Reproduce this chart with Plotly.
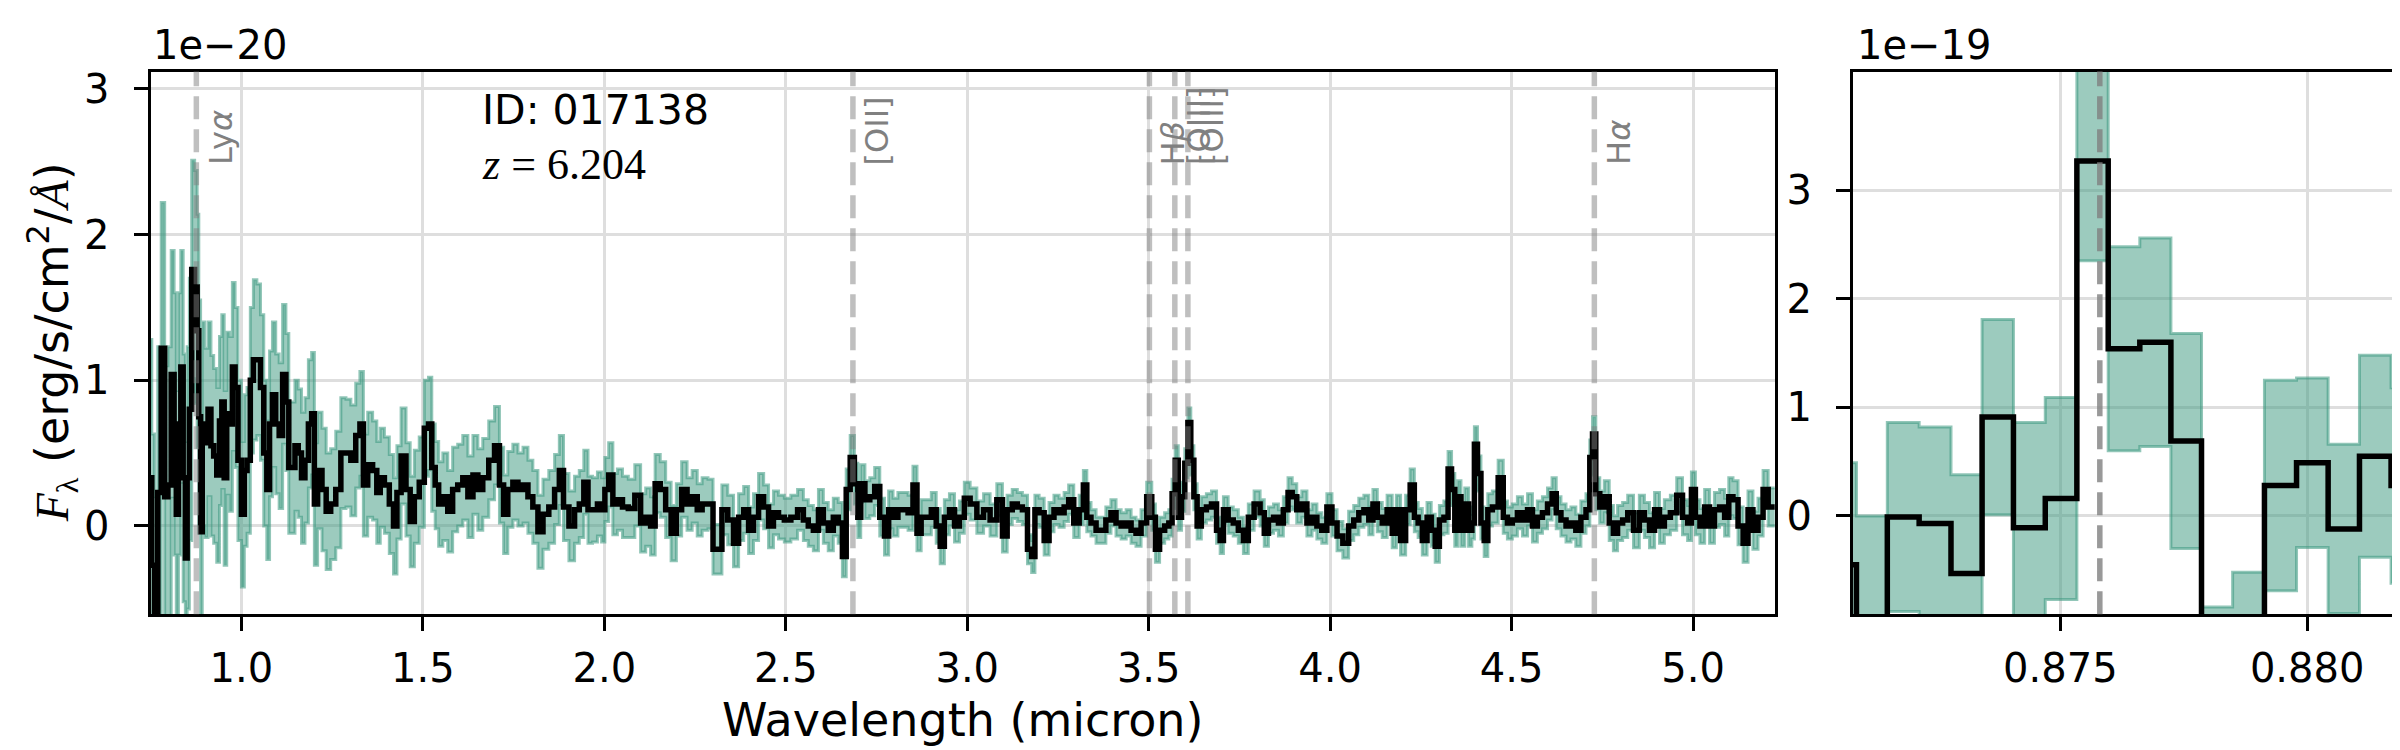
import plotly.graph_objects as go

# full spectrum, wavelength in micron, flux and error in units of 1e-20 erg/s/cm2/A
wave = [
    0.750, 0.756, 0.765, 0.774, 0.784, 0.793, 0.802, 0.811, 0.818, 0.823,
    0.830, 0.836, 0.843, 0.848, 0.853, 0.860, 0.866, 0.876, 0.880, 0.885,
    0.890, 0.894, 0.903, 0.913, 0.919, 0.928, 0.936, 0.943, 0.949, 0.956,
    0.963, 0.971, 0.979, 0.986, 0.995, 1.005, 1.011, 1.020, 1.029, 1.037,
    1.048, 1.057, 1.066, 1.074, 1.081, 1.090, 1.099, 1.109, 1.118, 1.127,
    1.134, 1.143, 1.152, 1.161, 1.170, 1.180, 1.189, 1.198, 1.204, 1.216,
    1.228, 1.239, 1.253, 1.267, 1.281, 1.295, 1.308, 1.322, 1.331, 1.341,
    1.355, 1.368, 1.378, 1.387, 1.401, 1.414, 1.424, 1.433, 1.447, 1.460,
    1.470, 1.483, 1.497, 1.511, 1.520, 1.529, 1.539, 1.548, 1.562, 1.575,
    1.589, 1.603, 1.617, 1.631, 1.645, 1.658, 1.672, 1.691, 1.704, 1.718,
    1.727, 1.741, 1.755, 1.769, 1.783, 1.796, 1.810, 1.824, 1.838, 1.856,
    1.870, 1.882, 1.893, 1.912, 1.924, 1.938, 1.949, 1.961, 1.974, 1.988,
    1.997, 2.006, 2.018, 2.029, 2.043, 2.057, 2.075, 2.093, 2.107, 2.121,
    2.134, 2.146, 2.162, 2.176, 2.192, 2.205, 2.221, 2.235, 2.249, 2.263,
    2.276, 2.295, 2.304, 2.317, 2.331, 2.349, 2.363, 2.377, 2.391, 2.404,
    2.418, 2.432, 2.446, 2.459, 2.473, 2.487, 2.505, 2.523, 2.542, 2.555,
    2.569, 2.583, 2.597, 2.610, 2.624, 2.638, 2.651, 2.661, 2.672, 2.683,
    2.695, 2.702, 2.711, 2.725, 2.738, 2.752, 2.766, 2.778, 2.789, 2.802,
    2.816, 2.830, 2.844, 2.857, 2.866, 2.880, 2.894, 2.908, 2.921, 2.930,
    2.944, 2.958, 2.972, 2.985, 2.999, 3.017, 3.036, 3.054, 3.072, 3.091,
    3.103, 3.117, 3.131, 3.145, 3.159, 3.173, 3.182, 3.191, 3.205, 3.219,
    3.232, 3.246, 3.260, 3.274, 3.285, 3.302, 3.315, 3.325, 3.334, 3.348,
    3.362, 3.375, 3.389, 3.403, 3.417, 3.431, 3.445, 3.458, 3.472, 3.486,
    3.503, 3.514, 3.523, 3.537, 3.551, 3.560, 3.569, 3.577, 3.586, 3.595,
    3.604, 3.612, 3.620, 3.629, 3.638, 3.652, 3.666, 3.680, 3.694, 3.700,
    3.712, 3.726, 3.740, 3.754, 3.768, 3.781, 3.800, 3.814, 3.823, 3.837,
    3.851, 3.864, 3.878, 3.890, 3.901, 3.915, 3.929, 3.943, 3.957, 3.970,
    3.984, 3.998, 4.012, 4.026, 4.044, 4.058, 4.072, 4.086, 4.100, 4.113,
    4.123, 4.137, 4.150, 4.164, 4.178, 4.187, 4.201, 4.215, 4.226, 4.238,
    4.247, 4.261, 4.273, 4.284, 4.295, 4.307, 4.320, 4.330, 4.339, 4.348,
    4.355, 4.366, 4.376, 4.387, 4.394, 4.401, 4.411, 4.420, 4.429, 4.440,
    4.454, 4.472, 4.482, 4.495, 4.509, 4.523, 4.537, 4.551, 4.564, 4.578,
    4.592, 4.606, 4.617, 4.629, 4.643, 4.657, 4.670, 4.684, 4.698, 4.712,
    4.719, 4.727, 4.737, 4.749, 4.762, 4.776, 4.785, 4.799, 4.813, 4.827,
    4.845, 4.859, 4.873, 4.887, 4.901, 4.914, 4.928, 4.947, 4.963, 4.979,
    4.991, 5.000, 5.013, 5.025, 5.039, 5.052, 5.066, 5.080, 5.094, 5.103,
    5.117, 5.131, 5.145, 5.158, 5.172, 5.186, 5.200, 5.214, 5.230,
]
flux = [
    0.33, -0.27, -0.75, 0.23, 1.22, 0.20, 0.28, 1.04, 0.70, 0.08,
    0.70, 1.09, 0.33, -0.22, 0.33, 0.80, 1.76, 1.64, 1.34, 0.75,
    -0.04, 0.70, 0.57, 0.80, 0.55, 0.48, 0.35, 0.72, 0.85, 0.33,
    0.77, 0.70, 1.09, 0.95, 0.45, 0.08, 0.38, 0.45, 1.00, 1.14,
    1.14, 0.95, 0.50, 0.25, 0.70, 0.90, 0.70, 0.62, 1.04, 0.85,
    0.40, 0.40, 0.55, 0.50, 0.33, 0.45, 0.70, 0.77, 0.15, 0.38,
    0.25, 0.10, 0.15, 0.25, 0.50, 0.50, 0.45, 0.62, 0.70, 0.28,
    0.42, 0.38, 0.23, 0.33, 0.28, 0.15, 0.00, 0.23, 0.48, 0.25,
    0.03, 0.20, 0.30, 0.67, 0.70, 0.40, 0.28, 0.15, 0.20, 0.10,
    0.25, 0.28, 0.33, 0.20, 0.35, 0.25, 0.33, 0.45, 0.55, 0.28,
    0.08, 0.25, 0.30, 0.25, 0.28, 0.20, 0.13, -0.04, 0.08, 0.13,
    0.25, 0.38, 0.13, 0.00, 0.11, 0.15, 0.30, 0.11, 0.11, 0.15,
    0.11, 0.25, 0.35, 0.15, 0.18, 0.13, 0.12, 0.21, 0.02, 0.06,
    0.00, 0.29, 0.25, 0.11, -0.05, 0.11, 0.25, 0.15, 0.20, 0.11,
    0.15, 0.15, -0.16, -0.16, 0.11, 0.04, -0.12, 0.06, 0.11, -0.03,
    0.06, 0.20, 0.13, 0.00, 0.09, 0.06, 0.04, 0.06, 0.11, 0.04,
    0.00, -0.03, 0.11, 0.02, -0.03, 0.06, 0.02, -0.21, 0.25, 0.47,
    0.29, 0.06, 0.29, 0.18, 0.20, 0.27, 0.06, -0.07, 0.11, 0.06,
    0.11, 0.11, 0.09, 0.28, -0.05, 0.06, 0.06, 0.11, 0.00, -0.14,
    0.06, 0.11, 0.00, 0.06, 0.19, 0.15, 0.06, 0.11, 0.04, 0.18,
    -0.07, 0.11, 0.15, 0.13, 0.11, -0.16, -0.21, 0.11, 0.09, -0.10,
    0.06, 0.11, 0.09, 0.13, 0.18, 0.02, 0.11, 0.28, 0.06, 0.02,
    -0.03, -0.03, 0.04, 0.09, 0.02, 0.00, 0.02, -0.03, -0.05, 0.02,
    0.20, 0.06, -0.16, -0.03, 0.00, 0.02, 0.22, 0.45, 0.06, 0.20,
    0.43, 0.71, 0.45, 0.20, 0.00, 0.11, 0.13, 0.15, -0.03, -0.10,
    0.11, 0.04, 0.02, -0.03, -0.10, 0.06, 0.15, 0.09, -0.05, 0.04,
    0.06, 0.02, 0.11, 0.23, 0.20, 0.11, 0.15, 0.02, 0.06, 0.00,
    -0.03, 0.13, 0.02, -0.07, -0.12, 0.00, 0.04, 0.09, 0.11, 0.04,
    0.15, 0.06, 0.02, 0.11, -0.05, 0.11, -0.10, 0.11, 0.28, 0.06,
    0.02, -0.10, 0.06, -0.03, -0.14, 0.04, 0.06, 0.39, 0.25, -0.03,
    0.20, -0.03, 0.15, -0.03, 0.02, 0.56, 0.36, 0.02, -0.10, 0.11,
    0.13, 0.33, 0.06, 0.02, 0.04, 0.09, 0.04, 0.11, 0.00, 0.06,
    0.09, 0.15, 0.22, 0.09, 0.04, 0.00, 0.02, -0.03, 0.06, 0.11,
    0.47, 0.63, 0.22, 0.13, 0.20, 0.02, -0.05, 0.02, 0.04, 0.09,
    -0.03, 0.09, 0.04, -0.03, 0.11, 0.00, 0.06, 0.09, 0.21, 0.06,
    0.02, 0.25, 0.06, 0.00, 0.13, 0.00, 0.11, 0.13, 0.06, 0.20,
    0.18, 0.00, -0.12, 0.11, -0.03, 0.06, 0.25, 0.13, 0.13,
]
err = [
    0.95, 0.90, 0.95, 1.00, 1.00, 0.90, 0.95, 0.85, 0.90, 0.85,
    0.90, 0.80, 0.85, 0.80, 0.90, 0.90, 0.75, 0.80, 0.80, 0.80,
    0.75, 0.70, 0.65, 0.60, 0.62, 0.60, 0.60, 0.58, 0.60, 0.60,
    0.56, 0.60, 0.58, 0.55, 0.55, 0.50, 0.52, 0.50, 0.50, 0.55,
    0.52, 0.50, 0.50, 0.48, 0.50, 0.50, 0.48, 0.50, 0.48, 0.47,
    0.45, 0.45, 0.45, 0.44, 0.45, 0.43, 0.44, 0.42, 0.42, 0.40,
    0.42, 0.40, 0.38, 0.40, 0.38, 0.37, 0.38, 0.36, 0.36, 0.35,
    0.36, 0.34, 0.35, 0.34, 0.33, 0.34, 0.33, 0.32, 0.33, 0.32,
    0.31, 0.32, 0.31, 0.33, 0.32, 0.30, 0.30, 0.29, 0.30, 0.28,
    0.29, 0.28, 0.29, 0.28, 0.27, 0.28, 0.27, 0.27, 0.27, 0.26,
    0.27, 0.26, 0.26, 0.25, 0.26, 0.25, 0.25, 0.25, 0.24, 0.25,
    0.24, 0.24, 0.23, 0.24, 0.23, 0.23, 0.22, 0.23, 0.22, 0.22,
    0.22, 0.22, 0.22, 0.21, 0.21, 0.21, 0.20, 0.21, 0.20, 0.20,
    0.20, 0.20, 0.19, 0.19, 0.19, 0.18, 0.19, 0.18, 0.18, 0.18,
    0.18, 0.17, 0.17, 0.17, 0.17, 0.17, 0.16, 0.16, 0.16, 0.16,
    0.16, 0.16, 0.15, 0.15, 0.15, 0.15, 0.15, 0.15, 0.14, 0.14,
    0.14, 0.14, 0.14, 0.14, 0.14, 0.13, 0.14, 0.14, 0.14, 0.15,
    0.14, 0.14, 0.13, 0.13, 0.13, 0.13, 0.13, 0.13, 0.13, 0.13,
    0.12, 0.12, 0.12, 0.13, 0.12, 0.12, 0.12, 0.12, 0.12, 0.12,
    0.12, 0.11, 0.11, 0.11, 0.11, 0.11, 0.11, 0.11, 0.11, 0.11,
    0.11, 0.10, 0.10, 0.10, 0.10, 0.10, 0.11, 0.10, 0.10, 0.10,
    0.10, 0.10, 0.10, 0.10, 0.10, 0.10, 0.10, 0.10, 0.10, 0.09,
    0.09, 0.09, 0.09, 0.09, 0.09, 0.09, 0.09, 0.09, 0.09, 0.09,
    0.10, 0.09, 0.09, 0.09, 0.09, 0.09, 0.10, 0.10, 0.09, 0.10,
    0.10, 0.10, 0.10, 0.09, 0.09, 0.09, 0.09, 0.09, 0.09, 0.09,
    0.09, 0.09, 0.09, 0.09, 0.09, 0.09, 0.09, 0.09, 0.09, 0.09,
    0.09, 0.09, 0.09, 0.10, 0.09, 0.09, 0.09, 0.09, 0.09, 0.09,
    0.09, 0.09, 0.09, 0.10, 0.10, 0.10, 0.10, 0.10, 0.10, 0.10,
    0.10, 0.10, 0.10, 0.10, 0.10, 0.10, 0.10, 0.10, 0.11, 0.10,
    0.10, 0.10, 0.10, 0.11, 0.11, 0.10, 0.11, 0.12, 0.11, 0.11,
    0.11, 0.11, 0.11, 0.11, 0.11, 0.12, 0.12, 0.11, 0.11, 0.11,
    0.11, 0.12, 0.11, 0.11, 0.11, 0.11, 0.11, 0.11, 0.11, 0.11,
    0.11, 0.11, 0.11, 0.11, 0.11, 0.11, 0.11, 0.11, 0.11, 0.11,
    0.12, 0.12, 0.11, 0.11, 0.11, 0.12, 0.12, 0.12, 0.12, 0.12,
    0.12, 0.12, 0.12, 0.12, 0.12, 0.12, 0.12, 0.12, 0.12, 0.12,
    0.12, 0.12, 0.12, 0.12, 0.12, 0.12, 0.12, 0.12, 0.13, 0.13,
    0.13, 0.13, 0.13, 0.13, 0.13, 0.13, 0.13, 0.13, 0.13,
]

# zoom around Lya, flux and error in units of 1e-19
zoom_wave = [
    0.87056, 0.87118, 0.87181, 0.87247, 0.87310, 0.87373, 0.87437,
    0.87502, 0.87565, 0.87629, 0.87693, 0.87755, 0.87817, 0.87881,
    0.87946, 0.88011, 0.88074, 0.88138, 0.88202,
]
zoom_flux = [
    -0.45, -0.93, -0.01, -0.07, -0.53, 0.91, -0.11, 0.16, 3.27, 1.54,
    1.60, 0.69, -1.75, -1.45, 0.28, 0.49, -0.12, 0.55, 0.28,
]
zoom_err = [
    0.94, 0.93, 0.87, 0.89, 0.91, 0.90, 0.97, 0.93, 0.92, 0.94,
    0.96, 0.99, 0.91, 0.93, 0.97, 0.78, 0.78, 0.93, 0.90,
]

# emission lines at z = 6.204 (observed micron)
line_names = ["Ly<i>α</i>", "[OII]", "H<i>β</i>", "[OIII]", "[OIII]", "H<i>α</i>"]
line_waves = [0.8758, 2.685, 3.502, 3.572, 3.608, 4.728]

obj_id = "017138"
redshift = "6.204"

W, H = 2400, 750
FONT = "DejaVu Sans"
SERIF = "Liberation Serif"
band_fill = "rgba(57,151,125,0.5)"
band_edge = "rgba(57,151,125,0.55)"


def add_spectrum(fig, x, y, e, xa, ya):
    lo = [a - b for a, b in zip(y, e)]
    hi = [a + b for a, b in zip(y, e)]
    fig.add_trace(go.Scatter(x=x, y=lo, mode="lines", line=dict(color=band_edge, width=3, shape="hvh"),
                             xaxis=xa, yaxis=ya, showlegend=False, hoverinfo="skip"))
    fig.add_trace(go.Scatter(x=x, y=hi, mode="lines", line=dict(color=band_edge, width=3, shape="hvh"),
                             fill="tonexty", fillcolor=band_fill,
                             xaxis=xa, yaxis=ya, showlegend=False, hoverinfo="skip"))
    fig.add_trace(go.Scatter(x=x, y=y, mode="lines", line=dict(color="black", width=5.5, shape="hvh"),
                             xaxis=xa, yaxis=ya, showlegend=False))


fig = go.Figure()
add_spectrum(fig, wave, flux, err, "x", "y")
add_spectrum(fig, zoom_wave, zoom_flux, zoom_err, "x2", "y2")

axis_common = dict(
    showline=True, linecolor="black", linewidth=3.3, mirror=True,
    ticks="outside", ticklen=14, tickwidth=3.3, tickcolor="black",
    showgrid=True, gridcolor="#dedede", gridwidth=2.7, zeroline=False,
    tickfont=dict(family=FONT, size=40, color="black"),
)

fig.update_layout(
    width=W, height=H,
    margin=dict(l=0, r=0, t=0, b=0),
    paper_bgcolor="white", plot_bgcolor="white",
    xaxis=dict(domain=[142.7 / W, 1766.7 / W], range=[0.75, 5.225],
               tickvals=[1.0, 1.5, 2.0, 2.5, 3.0, 3.5, 4.0, 4.5, 5.0],
               ticktext=["1.0", "1.5", "2.0", "2.5", "3.0", "3.5", "4.0", "4.5", "5.0"],
               ticklabelstandoff=3, anchor="y", **axis_common),
    yaxis=dict(domain=[1 - 605 / H, 1 - 58 / H], range=[-0.606, 3.119],
               tickvals=[0, 1, 2, 3], ticklabelstandoff=16, anchor="x", **axis_common),
    xaxis2=dict(domain=[1845 / W, 2388 / W], range=[0.8708, 0.8818],
                tickvals=[0.875, 0.880], ticktext=["0.875", "0.880"],
                ticklabelstandoff=3, anchor="y2", **axis_common),
    yaxis2=dict(domain=[1 - 605 / H, 1 - 58 / H], range=[-0.905, 4.093],
                tickvals=[0, 1, 2, 3], ticklabelstandoff=16, anchor="x2", **axis_common),
)

dash = "23px,10px"
for name, lw in zip(line_names, line_waves):
    fig.add_shape(type="line", xref="x", yref="y domain", x0=lw, x1=lw, y0=0, y1=1,
                  line=dict(color="rgba(128,128,128,0.5)", width=5.5, dash=dash), layer="above")
    fig.add_annotation(x=lw, y=0.8, xref="x", yref="y domain", text=name, showarrow=False,
                       textangle=-90, xanchor="left", yanchor="bottom", xshift=3, yshift=13,
                       font=dict(family=FONT, size=32, color="#808080"))

fig.add_shape(type="line", xref="x2", yref="y2 domain", x0=line_waves[0], x1=line_waves[0], y0=0, y1=1,
              line=dict(color="rgba(128,128,128,0.8)", width=5.5, dash=dash), layer="above")

# offset texts, object info and axis titles
fig.add_annotation(x=143 / W, y=1 - 31 / H, xref="paper", yref="paper", text="1e−20", showarrow=False,
                   xanchor="left", yanchor="middle", font=dict(family=FONT, size=40, color="black"))
fig.add_annotation(x=1847 / W, y=1 - 31 / H, xref="paper", yref="paper", text="1e−19", showarrow=False,
                   xanchor="left", yanchor="middle", font=dict(family=FONT, size=40, color="black"))
fig.add_annotation(x=472 / W, y=1 - 97 / H, xref="paper", yref="paper", text="ID: " + obj_id,
                   showarrow=False, xanchor="left", yanchor="middle",
                   font=dict(family=FONT, size=41, color="black"))
fig.add_annotation(x=472 / W, y=1 - 152 / H, xref="paper", yref="paper", text="<i>z</i> = " + redshift,
                   showarrow=False, xanchor="left", yanchor="middle",
                   font=dict(family=SERIF, size=44, color="black"))
fig.add_annotation(x=954.7 / W, y=1 - 712 / H, xref="paper", yref="paper", text="Wavelength (micron)",
                   showarrow=False, xanchor="center", yanchor="middle",
                   font=dict(family=FONT, size=46, color="black"))
ytitle = ('<span style="font-family:Liberation Serif"><i>F</i><sub>λ</sub></span> '
          '(erg/s/cm<sup>2</sup>/<span style="font-family:Liberation Serif"><i>Å</i></span>)')
fig.add_annotation(x=44 / W, y=1 - 331 / H, xref="paper", yref="paper", text=ytitle,
                   showarrow=False, textangle=-90, xanchor="center", yanchor="middle",
                   font=dict(family=FONT, size=46, color="black"))

fig.write_html("out.html")
